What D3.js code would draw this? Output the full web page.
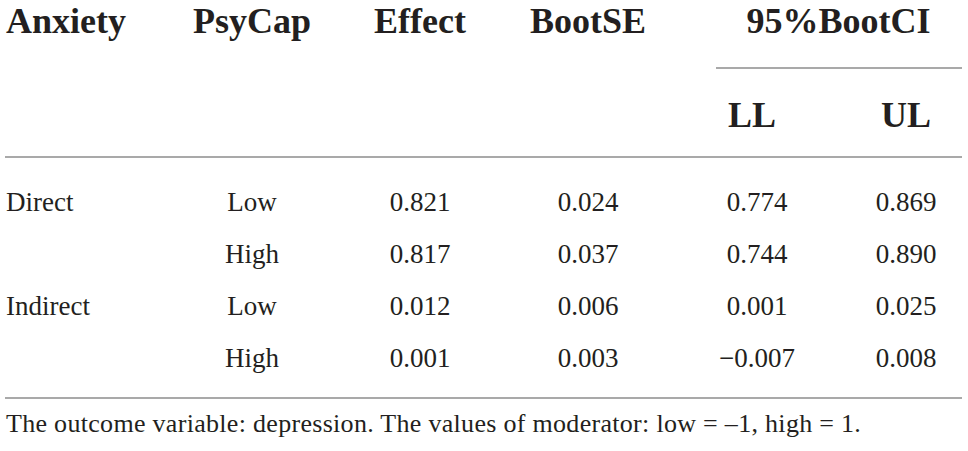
<!DOCTYPE html>
<html>
<head>
<meta charset="utf-8">
<script src="https://cdn.jsdelivr.net/npm/d3@7"></script>
<style>
  html, body { margin: 0; padding: 0; background: #fff; }
  svg { display: block; }
</style>
</head>
<body>
<svg id="table-container"></svg>
<script>
// table content
const anxiety = ["Direct", "", "Indirect", ""];
const psyCap = ["Low", "High", "Low", "High"];
const effect = [0.821, 0.817, 0.012, 0.001];
const bootSE = [0.024, 0.037, 0.006, 0.003];
const lowerLimit = [0.774, 0.744, 0.001, -0.007];
const upperLimit = [0.869, 0.890, 0.025, 0.008];
const headers = ["Anxiety", "PsyCap", "Effect", "BootSE"];
const ciHeader = "95%BootCI";
const ciSubHeaders = ["LL", "UL"];
const footnote = "The outcome variable: depression. The values of moderator: low = \u20131, high = 1.";

const WIDTH = 968;
const HEIGHT = 451;
const FONT = "'Liberation Serif', 'Times New Roman', serif";
const INK = "#231f20";
const RULE = "#8c8c8c";

const svg = d3.select("#table-container")
  .attr("width", WIDTH)
  .attr("height", HEIGHT);

const fmt = d3.format(".3f");

// column centres (first column is left aligned)
const colKeys = ["psycap", "effect", "bootse", "ll", "ul"];
const colX = d3.scaleOrdinal()
  .domain(colKeys)
  .range([252, 420, 588, 757, 906]);

// body row baselines
const rowY = d3.scalePoint()
  .domain(d3.range(psyCap.length))
  .range([211, 367]);

const LEFT = 6;
const RIGHT = 962;

// header
const headG = svg.append("g")
  .style("font-family", FONT)
  .style("font-weight", "bold")
  .style("font-size", "36px")
  .attr("fill", INK);

headG.append("text")
  .attr("x", LEFT)
  .attr("y", 33)
  .text(headers[0]);

headG.selectAll(".head-centre")
  .data(headers.slice(1))
  .join("text")
  .attr("class", "head-centre")
  .attr("x", (d, i) => colX(colKeys[i]))
  .attr("y", 33)
  .attr("text-anchor", "middle")
  .text(d => d);

headG.append("text")
  .attr("x", (colX("ll") + colX("ul")) / 2 + 7)
  .attr("y", 33)
  .attr("text-anchor", "middle")
  .text(ciHeader);

headG.selectAll(".head-sub")
  .data(ciSubHeaders)
  .join("text")
  .attr("class", "head-sub")
  .attr("x", (d, i) => colX(colKeys[3 + i]) - (i === 0 ? 5 : 0))
  .attr("y", 127)
  .attr("text-anchor", "middle")
  .text(d => d);

// rules
const rules = [
  { x1: 716, x2: RIGHT, y: 68 },
  { x1: LEFT - 1, x2: RIGHT, y: 157 },
  { x1: LEFT - 1, x2: RIGHT, y: 398 }
];
svg.selectAll(".rule")
  .data(rules)
  .join("line")
  .attr("class", "rule")
  .attr("x1", d => d.x1)
  .attr("x2", d => d.x2)
  .attr("y1", d => d.y)
  .attr("y2", d => d.y)
  .attr("stroke", RULE)
  .attr("stroke-width", 1.5);

// body
const rows = psyCap.map((p, i) => ({
  i,
  cells: [
    { key: "psycap", text: p },
    { key: "effect", text: fmt(effect[i]) },
    { key: "bootse", text: fmt(bootSE[i]) },
    { key: "ll", text: fmt(lowerLimit[i]) },
    { key: "ul", text: fmt(upperLimit[i]) }
  ]
}));

const bodyG = svg.append("g")
  .style("font-family", FONT)
  .style("font-size", "27px")
  .attr("fill", INK);

bodyG.selectAll(".row-label")
  .data(anxiety)
  .join("text")
  .attr("class", "row-label")
  .attr("x", LEFT)
  .attr("y", (d, i) => rowY(i))
  .text(d => d);

const rowG = bodyG.selectAll(".row")
  .data(rows)
  .join("g")
  .attr("class", "row")
  .attr("transform", d => `translate(0,${rowY(d.i)})`);

rowG.selectAll("text")
  .data(d => d.cells)
  .join("text")
  .attr("x", d => colX(d.key))
  .attr("text-anchor", "middle")
  .text(d => d.text);

// footnote
svg.append("text")
  .attr("x", LEFT)
  .attr("y", 432)
  .style("font-family", FONT)
  .style("font-size", "26px")
  .style("letter-spacing", "0.3px")
  .attr("fill", INK)
  .text(footnote);
</script>
</body>
</html>
